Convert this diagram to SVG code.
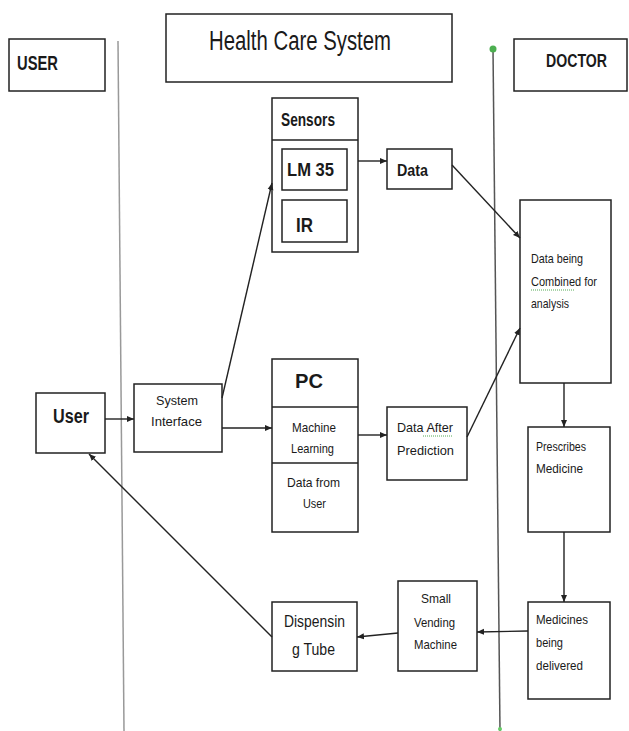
<svg xmlns="http://www.w3.org/2000/svg" width="629" height="731" viewBox="0 0 629 731">
<style>
.b{fill:#fff;stroke:#222;stroke-width:1.5}
.t{font-family:"Liberation Sans",Arial,sans-serif;fill:#1a1a1a}
.bd{font-weight:bold}
.s{font-size:13px}
.c{stroke:#222;stroke-width:1.4;fill:none;marker-end:url(#ah)}
.sq{stroke:#5a5;stroke-width:1;stroke-dasharray:1 1;fill:none}
</style>
<defs>
<marker id="ah" markerWidth="8" markerHeight="8" refX="7" refY="4" orient="auto" markerUnits="userSpaceOnUse">
<path d="M0,1 L7,4 L0,7 z" fill="#222"/>
</marker>
</defs>
<rect width="629" height="731" fill="#fff"/>
<g id="lifelines">
<line x1="118" y1="41" x2="124" y2="731" stroke="#999" stroke-width="1.5"/>
<line x1="493" y1="49" x2="500" y2="731" stroke="#555" stroke-width="1.5"/>
<circle cx="493" cy="49" r="3.5" fill="#4caf50"/>
<circle cx="500" cy="729" r="2" fill="#6c6"/>
</g>
<g id="user-lane">
<rect class="b" x="9" y="39" width="96" height="52"/>
<text class="t bd" x="17" y="70" font-size="20" textLength="41" lengthAdjust="spacingAndGlyphs">USER</text>
</g>
<g id="title">
<rect class="b" x="166" y="14" width="286" height="68"/>
<text class="t" x="209" y="50" font-size="27" textLength="182" lengthAdjust="spacingAndGlyphs">Health Care System</text>
</g>
<g id="doctor-lane">
<rect class="b" x="514" y="39" width="113" height="52"/>
<text class="t bd" x="546" y="67" font-size="19" textLength="61" lengthAdjust="spacingAndGlyphs">DOCTOR</text>
</g>
<g id="sensors">
<rect class="b" x="272" y="98" width="86" height="154"/>
<line x1="272" y1="140" x2="358" y2="140" stroke="#222" stroke-width="1.5"/>
<text class="t bd" x="281" y="126" font-size="18" textLength="54" lengthAdjust="spacingAndGlyphs">Sensors</text>
</g>
<g id="lm35">
<rect class="b" x="282" y="149" width="65" height="41"/>
<text class="t bd" x="287" y="176" font-size="19" textLength="47" lengthAdjust="spacingAndGlyphs">LM 35</text>
</g>
<g id="ir">
<rect class="b" x="282" y="200" width="65" height="42"/>
<text class="t bd" x="296" y="232" font-size="20" textLength="17" lengthAdjust="spacingAndGlyphs">IR</text>
</g>
<g id="data">
<rect class="b" x="387" y="149" width="65" height="40"/>
<text class="t bd" x="397" y="176" font-size="16" textLength="31" lengthAdjust="spacingAndGlyphs">Data</text>
</g>
<g id="combined">
<rect class="b" x="520" y="200" width="91" height="183"/>
<text class="t s" x="531" y="263" textLength="52" lengthAdjust="spacingAndGlyphs">Data being</text>
<text class="t s" x="531" y="286" textLength="66" lengthAdjust="spacingAndGlyphs">Combined for</text>
<text class="t s" x="531" y="308" textLength="38" lengthAdjust="spacingAndGlyphs">analysis</text>
<line class="sq" x1="531" y1="290" x2="574" y2="290"/>
</g>
<g id="user">
<rect class="b" x="36" y="393" width="69" height="60"/>
<text class="t bd" x="53" y="423" font-size="20" textLength="36" lengthAdjust="spacingAndGlyphs">User</text>
</g>
<g id="system-interface">
<rect class="b" x="134" y="384" width="88" height="68"/>
<text class="t s" x="156" y="405" textLength="42" lengthAdjust="spacingAndGlyphs">System</text>
<text class="t s" x="151" y="426" textLength="51" lengthAdjust="spacingAndGlyphs">Interface</text>
</g>
<g id="pc">
<rect class="b" x="272" y="359" width="86" height="173"/>
<line x1="272" y1="407" x2="358" y2="407" stroke="#222" stroke-width="1.5"/>
<line x1="272" y1="463" x2="358" y2="463" stroke="#222" stroke-width="1.5"/>
<text class="t bd" x="295" y="388" font-size="20" textLength="28" lengthAdjust="spacingAndGlyphs">PC</text>
<text class="t s" x="292" y="432" textLength="44" lengthAdjust="spacingAndGlyphs">Machine</text>
<text class="t s" x="291" y="453" textLength="43" lengthAdjust="spacingAndGlyphs">Learning</text>
<text class="t s" x="287" y="487" textLength="53" lengthAdjust="spacingAndGlyphs">Data from</text>
<text class="t s" x="303" y="508" textLength="23" lengthAdjust="spacingAndGlyphs">User</text>
</g>
<g id="data-after-prediction">
<rect class="b" x="387" y="407" width="80" height="73"/>
<text class="t s" x="397" y="432" textLength="56" lengthAdjust="spacingAndGlyphs">Data After</text>
<text class="t s" x="397" y="455" textLength="57" lengthAdjust="spacingAndGlyphs">Prediction</text>
<line class="sq" x1="423" y1="436" x2="453" y2="436"/>
</g>
<g id="prescribes">
<rect class="b" x="528" y="427" width="82" height="105"/>
<text class="t s" x="536" y="451" textLength="50" lengthAdjust="spacingAndGlyphs">Prescribes</text>
<text class="t s" x="536" y="473" textLength="47" lengthAdjust="spacingAndGlyphs">Medicine</text>
</g>
<g id="medicines-delivered">
<rect class="b" x="528" y="602" width="82" height="97"/>
<text class="t s" x="536" y="624" textLength="52" lengthAdjust="spacingAndGlyphs">Medicines</text>
<text class="t s" x="536" y="647" textLength="27" lengthAdjust="spacingAndGlyphs">being</text>
<text class="t s" x="536" y="670" textLength="47" lengthAdjust="spacingAndGlyphs">delivered</text>
</g>
<g id="vending">
<rect class="b" x="398" y="581" width="79" height="90"/>
<text class="t s" x="421" y="603" textLength="30" lengthAdjust="spacingAndGlyphs">Small</text>
<text class="t s" x="414" y="627" textLength="41" lengthAdjust="spacingAndGlyphs">Vending</text>
<text class="t s" x="414" y="649" textLength="43" lengthAdjust="spacingAndGlyphs">Machine</text>
</g>
<g id="dispensing">
<rect class="b" x="272" y="602" width="85" height="69"/>
<text class="t" x="284" y="627" font-size="16" textLength="61" lengthAdjust="spacingAndGlyphs">Dispensin</text>
<text class="t" x="292" y="655" font-size="16" textLength="43" lengthAdjust="spacingAndGlyphs">g Tube</text>
</g>
<g id="connectors">
<line class="c" x1="105" y1="419" x2="134" y2="419"/>
<line class="c" x1="222" y1="398" x2="272" y2="183"/>
<line class="c" x1="222" y1="428" x2="272" y2="428"/>
<line class="c" x1="358" y1="161" x2="387" y2="161"/>
<line class="c" x1="452" y1="165" x2="520" y2="238"/>
<line class="c" x1="358" y1="435" x2="387" y2="435"/>
<line class="c" x1="467" y1="437" x2="520" y2="328"/>
<line class="c" x1="564" y1="383" x2="564" y2="427"/>
<line class="c" x1="564" y1="532" x2="564" y2="602"/>
<line class="c" x1="528" y1="631" x2="477" y2="632"/>
<line class="c" x1="398" y1="633" x2="357" y2="637"/>
<line class="c" x1="272" y1="637" x2="89" y2="454"/>
</g>
</svg>
